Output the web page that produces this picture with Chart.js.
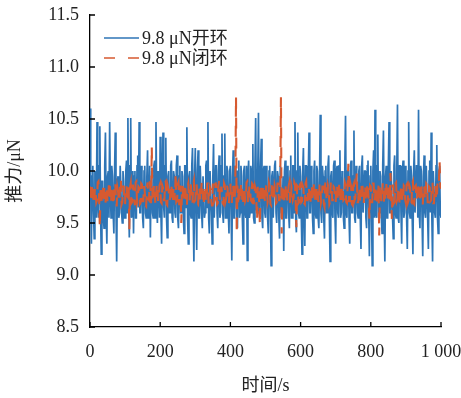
<!DOCTYPE html>
<html>
<head>
<meta charset="utf-8">
<script src="https://cdn.jsdelivr.net/npm/chart.js@4.4.1/dist/chart.umd.min.js"></script>
<style>
  html, body { margin: 0; padding: 0; background: #fff; }
</style>
</head>
<body>
<canvas id="thrust" width="461" height="398"></canvas>
<script>
const seriesNames = ['9.8 μN开环', '9.8 μN闭环'];
const sampleStep = 2; // seconds between samples

// open loop thrust, μN (one row = 100 s)
const openLoop = [
  10.60, 9.85, 9.30, 9.95, 10.05, 9.60, 9.35, 10.00, 9.95, 9.55, 10.47, 9.70, 9.55, 10.05, 10.43, 9.65, 9.20, 9.90, 9.90, 9.55, 9.45, 10.05, 10.37, 9.60, 9.30, 9.95, 10.00, 9.55, 10.47, 9.80, 9.55, 10.05, 9.95, 9.60, 9.40, 10.00, 10.37, 9.65, 9.13, 9.90, 9.95, 9.55, 9.60, 10.05, 10.05, 9.60, 9.50, 10.00, 9.90, 9.55,
  9.55, 10.00, 10.10, 9.60, 10.51, 9.75, 9.36, 10.05, 10.51, 9.55, 9.60, 10.00, 9.40, 9.95, 10.00, 9.55, 9.55, 10.05, 10.15, 9.65, 10.47, 9.60, 9.60, 10.05, 9.95, 9.55, 9.45, 10.00, 10.05, 9.60, 9.55, 9.95, 10.20, 9.55, 9.60, 10.05, 9.36, 9.90, 10.00, 9.60, 9.55, 10.05, 10.10, 9.55, 10.47, 9.70, 9.50, 10.00, 9.95, 9.55,
  10.33, 9.60, 9.30, 10.00, 10.37, 9.65, 9.55, 10.05, 10.32, 9.55, 9.36, 9.95, 10.00, 9.60, 9.60, 10.05, 10.10, 9.55, 9.50, 10.00, 9.95, 9.60, 9.55, 10.05, 10.15, 9.55, 9.45, 9.95, 10.05, 9.60, 9.60, 10.00, 9.95, 9.55, 9.40, 10.05, 10.05, 9.65, 10.42, 9.55, 9.30, 9.95, 10.00, 9.60, 9.55, 10.05, 10.22, 9.60, 9.13, 9.95,
  10.22, 9.60, 9.24, 10.00, 10.20, 9.55, 9.55, 10.05, 10.05, 9.60, 9.45, 9.95, 9.95, 9.55, 9.60, 10.05, 10.10, 9.65, 10.47, 9.55, 9.40, 10.00, 10.00, 9.60, 9.30, 9.95, 10.26, 9.55, 9.55, 10.05, 10.05, 9.60, 9.45, 10.00, 10.15, 9.55, 9.60, 10.05, 10.36, 9.60, 9.50, 9.95, 10.36, 9.55, 9.55, 10.05, 10.00, 9.60, 9.40, 10.00,
  10.05, 9.60, 9.14, 9.95, 10.20, 9.55, 9.55, 10.05, 10.00, 9.60, 9.45, 10.00, 10.10, 9.55, 9.60, 10.05, 9.95, 9.55, 9.30, 10.00, 10.05, 9.60, 9.55, 10.05, 9.14, 9.95, 10.10, 9.55, 9.60, 10.05, 10.00, 9.60, 10.26, 9.55, 9.50, 10.05, 10.51, 9.65, 9.60, 10.00, 10.56, 9.60, 9.55, 10.05, 10.31, 9.55, 9.45, 10.00, 10.05, 9.60,
  9.55, 10.05, 9.95, 9.55, 9.40, 10.00, 10.05, 9.60, 9.09, 9.95, 10.00, 9.55, 9.55, 10.05, 10.10, 9.60, 9.50, 10.00, 9.95, 9.55, 9.35, 10.05, 10.05, 9.60, 9.60, 9.95, 9.23, 10.00, 10.10, 9.55, 9.55, 10.05, 10.00, 9.60, 9.45, 10.00, 10.15, 9.55, 9.55, 10.05, 10.05, 9.60, 10.47, 9.55, 9.41, 10.00, 10.37, 9.60, 9.55, 10.05,
  9.95, 9.55, 9.20, 10.00, 10.22, 9.60, 9.28, 10.05, 10.05, 9.55, 9.55, 10.00, 10.37, 9.60, 9.60, 10.05, 9.95, 9.55, 9.40, 10.00, 10.10, 9.60, 9.55, 10.05, 10.00, 9.55, 9.45, 9.95, 10.54, 9.60, 9.50, 10.05, 9.95, 9.55, 9.35, 10.00, 10.05, 9.60, 9.60, 10.05, 10.15, 9.55, 9.13, 9.95, 10.00, 9.60, 9.55, 10.05, 10.10, 9.55,
  9.30, 10.00, 10.05, 9.60, 9.55, 10.05, 10.20, 9.55, 9.60, 10.00, 9.95, 9.55, 9.45, 10.05, 10.53, 9.60, 9.55, 10.00, 10.00, 9.55, 9.30, 10.05, 10.10, 9.60, 9.60, 9.95, 10.39, 9.55, 9.50, 10.05, 9.95, 9.60, 9.55, 10.00, 10.05, 9.55, 9.25, 10.05, 10.15, 9.60, 9.60, 10.00, 10.00, 9.55, 9.45, 10.05, 10.10, 9.60, 9.18, 9.95,
  10.05, 9.60, 9.09, 10.00, 10.20, 9.55, 10.59, 9.60, 9.55, 10.05, 10.35, 9.55, 9.60, 10.00, 9.95, 9.55, 9.40, 10.05, 10.39, 9.60, 9.13, 9.95, 10.05, 9.55, 9.55, 10.05, 10.47, 9.60, 9.60, 10.00, 10.00, 9.55, 9.35, 10.05, 10.15, 9.60, 9.55, 10.00, 10.64, 9.55, 9.50, 10.05, 10.05, 9.60, 9.30, 10.00, 10.10, 9.55, 9.60, 10.05,
  10.00, 9.55, 9.25, 10.00, 10.47, 9.60, 9.55, 10.05, 9.95, 9.55, 9.20, 10.00, 10.20, 9.60, 9.60, 10.05, 10.05, 9.55, 10.59, 9.60, 9.45, 10.05, 10.00, 9.55, 9.18, 9.95, 10.15, 9.60, 9.55, 10.05, 10.05, 9.55, 9.25, 10.00, 10.10, 9.60, 10.37, 9.55, 9.13, 10.00, 10.00, 9.60, 9.55, 10.05, 10.25, 9.55, 9.40, 10.00, 10.05, 9.60, 9.55
];

// closed loop thrust, μN (one row = 100 s)
const closedLoop = [
  9.85, 9.72, 9.70, 9.87, 9.88, 9.69, 9.68, 9.84, 9.82, 9.70, 9.72, 9.89, 9.90, 9.73, 9.46, 9.86, 9.80, 9.68, 9.70, 9.88, 9.86, 9.71, 9.67, 9.85, 9.84, 9.69, 9.74, 9.90, 9.90, 9.72, 9.69, 9.86, 9.83, 9.67, 9.71, 9.89, 9.88, 9.73, 9.66, 9.84, 9.80, 9.70, 9.73, 9.87, 9.92, 9.68, 9.70, 9.85, 9.85, 9.71,
  9.68, 9.86, 9.86, 9.70, 9.72, 9.88, 9.44, 9.84, 9.88, 9.69, 9.70, 9.87, 9.82, 9.72, 9.67, 9.89, 9.90, 9.70, 9.73, 9.85, 9.84, 9.68, 9.69, 9.88, 9.87, 9.71, 9.71, 9.86, 9.80, 9.67, 9.66, 9.84, 9.89, 9.73, 9.72, 9.90, 9.83, 9.69, 10.23, 9.72, 9.70, 9.87, 9.86, 9.70, 9.68, 9.88, 9.85, 9.71, 9.72, 9.86,
  9.88, 9.70, 9.69, 9.86, 9.84, 9.72, 9.72, 9.89, 9.90, 9.68, 9.67, 9.85, 9.82, 9.71, 9.74, 9.88, 9.87, 9.69, 9.70, 9.84, 9.85, 9.72, 9.98, 9.70, 9.71, 9.87, 9.89, 9.68, 9.68, 9.86, 9.50, 9.84, 9.86, 9.70, 9.73, 9.88, 9.82, 9.67, 9.66, 9.85, 9.88, 9.72, 9.71, 9.89, 9.84, 9.69, 9.69, 9.86, 9.90, 9.71,
  9.72, 9.88, 9.86, 9.69, 9.68, 9.85, 9.83, 9.71, 9.74, 9.89, 9.90, 9.70, 9.67, 9.86, 9.85, 9.72, 9.71, 9.88, 9.88, 9.68, 9.70, 9.84, 9.82, 9.70, 9.66, 9.87, 9.87, 9.71, 9.73, 9.89, 9.84, 9.68, 9.69, 9.86, 9.91, 9.72, 9.72, 9.85, 9.80, 9.69, 9.68, 9.88, 9.86, 9.71, 9.74, 9.87, 9.83, 9.68, 9.70, 9.86,
  9.88, 9.70, 9.69, 9.87, 9.85, 9.71, 9.72, 9.88, 10.71, 9.40, 9.86, 9.70, 9.86, 9.72, 9.70, 9.88, 9.89, 9.69, 9.67, 9.85, 9.83, 9.71, 9.73, 9.89, 9.90, 9.70, 9.68, 9.86, 9.84, 9.72, 9.71, 9.88, 9.87, 9.68, 9.74, 9.85, 9.82, 9.70, 9.53, 9.87, 9.86, 9.71, 9.48, 9.86, 9.88, 9.69, 9.70, 9.87, 9.84, 9.72,
  9.69, 9.86, 9.87, 9.70, 9.73, 9.88, 9.85, 9.68, 9.67, 9.87, 9.90, 9.71, 9.71, 9.86, 9.83, 9.69, 9.70, 9.88, 9.88, 9.72, 9.72, 9.85, 10.71, 9.40, 9.72, 9.87, 9.86, 9.70, 9.69, 9.88, 9.84, 9.71, 9.73, 9.86, 9.89, 9.68, 9.68, 9.85, 9.82, 9.72, 9.74, 9.89, 9.87, 9.70, 9.46, 9.86, 9.85, 9.69, 9.70, 9.87,
  9.88, 9.70, 9.71, 9.86, 9.84, 9.69, 9.68, 9.88, 9.90, 9.72, 9.72, 9.85, 9.83, 9.70, 9.67, 9.87, 9.86, 9.71, 9.73, 9.89, 9.89, 9.68, 9.70, 9.86, 9.82, 9.72, 9.69, 9.88, 9.87, 9.70, 9.74, 9.85, 9.85, 9.69, 9.66, 9.87, 9.91, 9.71, 9.71, 9.86, 9.83, 9.68, 9.70, 9.89, 9.88, 9.72, 9.72, 9.85, 9.84, 9.70,
  9.70, 9.87, 9.86, 9.71, 9.72, 9.88, 9.89, 9.69, 9.68, 9.86, 9.84, 9.72, 9.73, 9.89, 9.87, 9.70, 9.69, 9.85, 10.07, 9.71, 9.71, 9.88, 9.85, 9.68, 9.67, 9.86, 9.88, 9.72, 9.74, 9.87, 9.98, 9.70, 9.70, 9.85, 9.83, 9.69, 9.72, 9.88, 9.90, 9.71, 9.68, 9.86, 9.86, 9.70, 9.71, 9.89, 9.84, 9.72, 9.54, 9.86,
  9.85, 9.70, 9.70, 9.88, 9.88, 9.71, 9.73, 9.86, 9.82, 9.69, 9.69, 9.87, 9.38, 9.85, 9.87, 9.70, 9.72, 9.89, 9.84, 9.68, 9.68, 9.86, 9.90, 9.72, 9.71, 9.88, 9.83, 9.70, 9.98, 9.72, 9.54, 9.86, 9.86, 9.69, 9.70, 9.88, 9.89, 9.71, 9.73, 9.85, 9.82, 9.68, 9.67, 9.87, 9.87, 9.70, 9.71, 9.86, 9.85, 9.72,
  9.69, 9.87, 9.88, 9.70, 9.72, 9.86, 9.84, 9.71, 9.70, 9.88, 9.90, 9.69, 9.68, 9.85, 9.86, 9.72, 9.73, 9.89, 9.83, 9.70, 9.71, 9.87, 9.89, 9.68, 9.67, 9.86, 9.85, 9.72, 9.74, 9.88, 9.87, 9.70, 9.70, 9.85, 9.84, 9.71, 9.72, 9.89, 9.88, 9.69, 9.69, 9.86, 9.86, 9.72, 9.73, 9.88, 9.85, 9.90, 10.09, 9.85, 9.83
];

const xTicks = [0, 200, 400, 600, 800, 1000];
const xTickLabels = ['0', '200', '400', '600', '800', '1 000'];
const yTicks = [8.5, 9.0, 9.5, 10.0, 10.5, 11.0, 11.5];
const yTickLabels = ['8.5', '9.0', '9.5', '10.0', '10.5', '11.0', '11.5'];

const blue = '#2e75b6';
const red = '#d65a31';
const ink = '#222';
const FONT = '"Liberation Serif", "Noto Sans CJK SC", serif';

const toPoints = arr => arr.map((v, i) => ({ x: i * sampleStep, y: v }));

// inward tick marks + legend in the top left corner
const decorations = {
  id: 'decorations',
  afterDraw: chart => {
    const ctx = chart.ctx;
    const a = chart.chartArea;
    const xAxis = chart.scales['x'];
    const yAxis = chart.scales['y'];
    ctx.save();
    ctx.strokeStyle = '#000';
    ctx.lineWidth = 1.3;
    ctx.beginPath();
    xTicks.forEach(v => {
      const px = xAxis.getPixelForValue(v);
      ctx.moveTo(px, a.bottom);
      ctx.lineTo(px, a.bottom - 5);
    });
    yTicks.forEach(v => {
      const py = yAxis.getPixelForValue(v);
      ctx.moveTo(a.left, py);
      ctx.lineTo(a.left + 5, py);
    });
    ctx.stroke();

    ctx.font = '18px ' + FONT;
    ctx.fillStyle = ink;
    ctx.textBaseline = 'middle';
    chart.data.datasets.forEach((ds, i) => {
      const y = a.top + 23 + i * 20;
      ctx.beginPath();
      ctx.strokeStyle = ds.borderColor;
      ctx.lineWidth = 1.5;
      ctx.setLineDash(i === 1 ? [11, 13] : []);
      ctx.moveTo(a.left + 14, y);
      ctx.lineTo(a.left + 49, y);
      ctx.stroke();
      ctx.setLineDash([]);
      ctx.fillText(ds.label, a.left + 52, y + 1);
    });
    ctx.restore();
  }
};

const chart = new Chart(document.getElementById('thrust'), {
  type: 'line',
  plugins: [decorations],
  data: {
    datasets: [{
      label: seriesNames[0],
      data: toPoints(openLoop),
      borderColor: blue,
      borderWidth: 1.7,
      order: 1
    }, {
      label: seriesNames[1],
      data: toPoints(closedLoop),
      borderColor: red,
      borderWidth: 2.1,
      borderDash: [11, 9],
      order: 0
    }]
  },
  options: {
    responsive: false,
    animation: false,
    elements: {
      point: { radius: 0 },
      line: { tension: 0 }
    },
    layout: { padding: { left: 0, right: 20, top: 15, bottom: 0 } },
    plugins: {
      legend: { display: false },
      tooltip: { enabled: false }
    },
    scales: {
      x: {
        type: 'linear',
        min: 0,
        max: 1000,
        afterBuildTicks: s => { s.ticks = xTicks.map(v => ({ value: v })); },
        afterFit: s => {
          s.height = 71;
          s.paddingLeft = 0;
          s.paddingRight = 0;
        },
        grid: { display: false, drawTicks: false },
        border: { display: true, color: '#000', width: 1.3 },
        ticks: {
          color: ink,
          font: { family: FONT, size: 18 },
          padding: 14,
          maxRotation: 0,
          callback: (value, index) => xTickLabels[index]
        },
        title: {
          display: true,
          text: '时间/s',
          color: ink,
          font: { family: FONT, size: 18 },
          padding: { top: 0, bottom: 1 }
        }
      },
      y: {
        min: 8.5,
        max: 11.5,
        afterBuildTicks: s => { s.ticks = yTicks.map(v => ({ value: v })); },
        afterFit: s => {
          s.width = 90;
          s.paddingTop = 0;
          s.paddingBottom = 0;
        },
        grid: { display: false, drawTicks: false },
        border: { display: true, color: '#000', width: 1.3 },
        ticks: {
          color: ink,
          font: { family: FONT, size: 18 },
          padding: 11,
          callback: (value, index) => yTickLabels[index]
        },
        title: {
          display: true,
          text: '推力/μN',
          color: ink,
          font: { family: FONT, size: 18 },
          padding: { top: 4, bottom: 0 }
        }
      }
    }
  }
});
</script>
</body>
</html>
